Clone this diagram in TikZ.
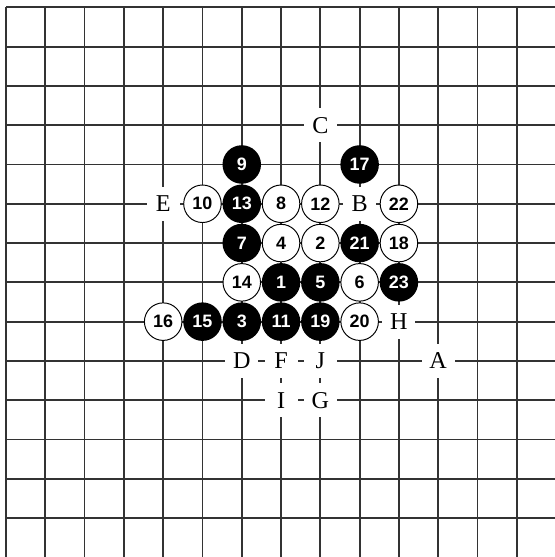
\documentclass[tikz,border=0pt]{standalone}
\usepackage{fontspec}
\setmainfont{Liberation Serif}
\setsansfont{Liberation Sans}
\usepackage{xcolor}
\usepackage{tikz}
\definecolor{gridgray}{HTML}{333333}
\tikzset{
  gridline/.style={
    line width=1.3pt, color=gridgray
  },
  blackstone/.style={
    circle, fill=black, text=white, inner sep=0pt,
    minimum size=0.98cm,
    font=\sffamily\bfseries\fontsize{13}{13}\selectfont
  },
  whitestone/.style={
    circle, draw=black, line width=0.7pt, fill=white, text=black,
    inner sep=0pt, minimum size=0.955cm,
    font=\sffamily\bfseries\fontsize{13}{13}\selectfont
  },
  boardlabel/.style={
    rectangle, fill=white, inner sep=0pt,
    minimum width=0.84cm, minimum height=0.86cm,
    font=\fontsize{17.5}{18}\selectfont
  },
}

\begin{document}
\begin{tikzpicture}
  \useasboundingbox (-0.153,0.186) rectangle (13.97,-13.99);
  % Board corner
  \draw[gridline] (0,0) grid (13.97,-13.99);

  % Black stones
  \node[blackstone] (s1) at (7,-7) {1};
  \node[blackstone] (s3) at (6,-8) {3};
  \node[blackstone] (s5) at (8,-7) {5};
  \node[blackstone] (s7) at (6,-6) {7};
  \node[blackstone] (s9) at (6,-4) {9};
  \node[blackstone] (s11) at (7,-8) {11};
  \node[blackstone] (s13) at (6,-5) {13};
  \node[blackstone] (s15) at (5,-8) {15};
  \node[blackstone] (s17) at (9,-4) {17};
  \node[blackstone] (s19) at (8,-8) {19};
  \node[blackstone] (s21) at (9,-6) {21};
  \node[blackstone] (s23) at (10,-7) {23};

  % White stones
  \node[whitestone] (s2) at (8,-6) {2};
  \node[whitestone] (s4) at (7,-6) {4};
  \node[whitestone] (s6) at (9,-7) {6};
  \node[whitestone] (s8) at (7,-5) {8};
  \node[whitestone] (s10) at (5,-5) {10};
  \node[whitestone] (s12) at (8,-5) {12};
  \node[whitestone] (s14) at (6,-7) {14};
  \node[whitestone] (s16) at (4,-8) {16};
  \node[whitestone] (s18) at (10,-6) {18};
  \node[whitestone] (s20) at (9,-8) {20};
  \node[whitestone] (s22) at (10,-5) {22};

  % Marked points
  \node[boardlabel] (ptA) at (11,-9) {A};
  \node[boardlabel] (ptB) at (9,-5) {B};
  \node[boardlabel] (ptC) at (8,-3) {C};
  \node[boardlabel] (ptD) at (6,-9) {D};
  \node[boardlabel] (ptE) at (4,-5) {E};
  \node[boardlabel] (ptF) at (7,-9) {F};
  \node[boardlabel] (ptG) at (8,-10) {G};
  \node[boardlabel] (ptH) at (10,-8) {H};
  \node[boardlabel] (ptI) at (7,-10) {I};
  \node[boardlabel] (ptJ) at (8,-9) {J};
\end{tikzpicture}
\end{document}
